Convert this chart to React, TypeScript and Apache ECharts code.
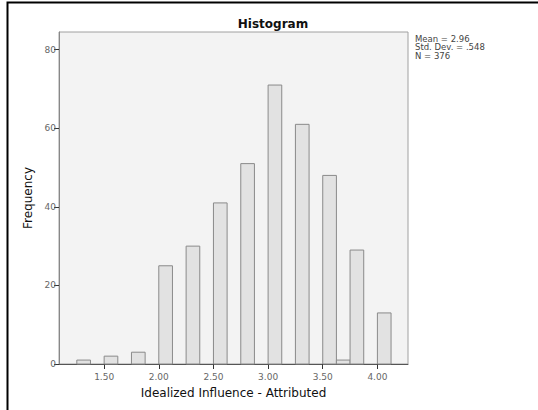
import React, { useEffect, useRef } from "react";
import * as echarts from "echarts";

const binStart = [1.25, 1.5, 1.75, 2.0, 2.25, 2.5, 2.75, 3.0, 3.25, 3.5, 3.625, 3.75, 4.0];
const binWidth = 0.125;
const counts = [1, 2, 3, 25, 30, 41, 51, 71, 61, 48, 1, 29, 13];
const xTicks = [1.5, 2.0, 2.5, 3.0, 3.5, 4.0];
const yTicks = [0, 20, 40, 60, 80];
const statsLines = ["Mean = 2.96", "Std. Dev. = .548", "N = 376"];

const FONT = "'DejaVu Sans', 'Liberation Sans', sans-serif";

export default function App() {
  const ref = useRef<HTMLDivElement>(null);
  useEffect(() => {
    if (!ref.current) return;
    const chart = echarts.init(ref.current, null, { renderer: "svg" });
    const data = binStart.map((s, i) => [s, s + binWidth, counts[i]]);
    chart.setOption({
      animation: false,
      backgroundColor: "#ffffff",
      textStyle: { fontFamily: FONT },
      title: {
        text: "Histogram",
        left: 268,
        textAlign: "center",
        top: 13,
        textStyle: { fontFamily: FONT, fontSize: 12, fontWeight: "bold", color: "#111" },
      },
      grid: {
        left: 59,
        top: 32,
        right: 130,
        bottom: 46,
        show: true,
        backgroundColor: "#f3f3f3",
        borderColor: "#a0a0a0",
        borderWidth: 1,
      },
      xAxis: {
        type: "value",
        min: 1.087,
        max: 4.28,
        name: "Idealized Influence - Attributed",
        nameLocation: "middle",
        nameGap: 23,
        nameTextStyle: { fontFamily: FONT, fontSize: 12, color: "#111" },
        splitLine: { show: false },
        axisLine: { show: true, onZero: false, lineStyle: { color: "#555", width: 1 } },
        axisTick: { show: true, length: 5, customValues: xTicks, lineStyle: { color: "#333" } },
        axisLabel: {
          customValues: xTicks,
          formatter: (v: number) => v.toFixed(2),
          fontFamily: FONT,
          fontSize: 9,
          color: "#666",
          margin: 8,
        },
      },
      yAxis: {
        type: "value",
        min: 0,
        max: 84.5,
        name: "Frequency",
        nameLocation: "middle",
        nameRotate: 90,
        nameGap: 24,
        nameTextStyle: { fontFamily: FONT, fontSize: 12, color: "#111" },
        splitLine: { show: false },
        axisLine: { show: true, lineStyle: { color: "#888", width: 1 } },
        axisTick: { show: true, length: 5, customValues: yTicks, lineStyle: { color: "#333" } },
        axisLabel: {
          customValues: yTicks,
          fontFamily: FONT,
          fontSize: 9,
          color: "#666",
          margin: 3,
        },
      },
      series: [
        {
          type: "custom",
          data,
          encode: { x: [0, 1], y: 2 },
          renderItem: (params: any, api: any) => {
            const p0 = api.coord([api.value(0), 0]);
            const p1 = api.coord([api.value(1), api.value(2)]);
            return {
              type: "rect",
              shape: { x: p0[0], y: p1[1], width: p1[0] - p0[0], height: p0[1] - p1[1] },
              style: { fill: "#e2e2e2", stroke: "#8a8a8a", lineWidth: 1 },
            };
          },
        },
      ],
      graphic: [
        {
          type: "rect",
          shape: { x: 7.5, y: 2.5, width: 700, height: 600 },
          style: { fill: "none", stroke: "#000", lineWidth: 2 },
          silent: true,
        },
        ...statsLines.map((t, i) => ({
          type: "text",
          x: 415,
          y: 34 + i * 8.5,
          style: { text: t, fontFamily: FONT, fontSize: 8.5, fill: "#444" },
        })),
      ],
    });
    return () => chart.dispose();
  }, []);
  return (
    <div
      ref={ref}
      style={{ position: "fixed", left: 0, top: 0, width: 538, height: 410 }}
    />
  );
}
